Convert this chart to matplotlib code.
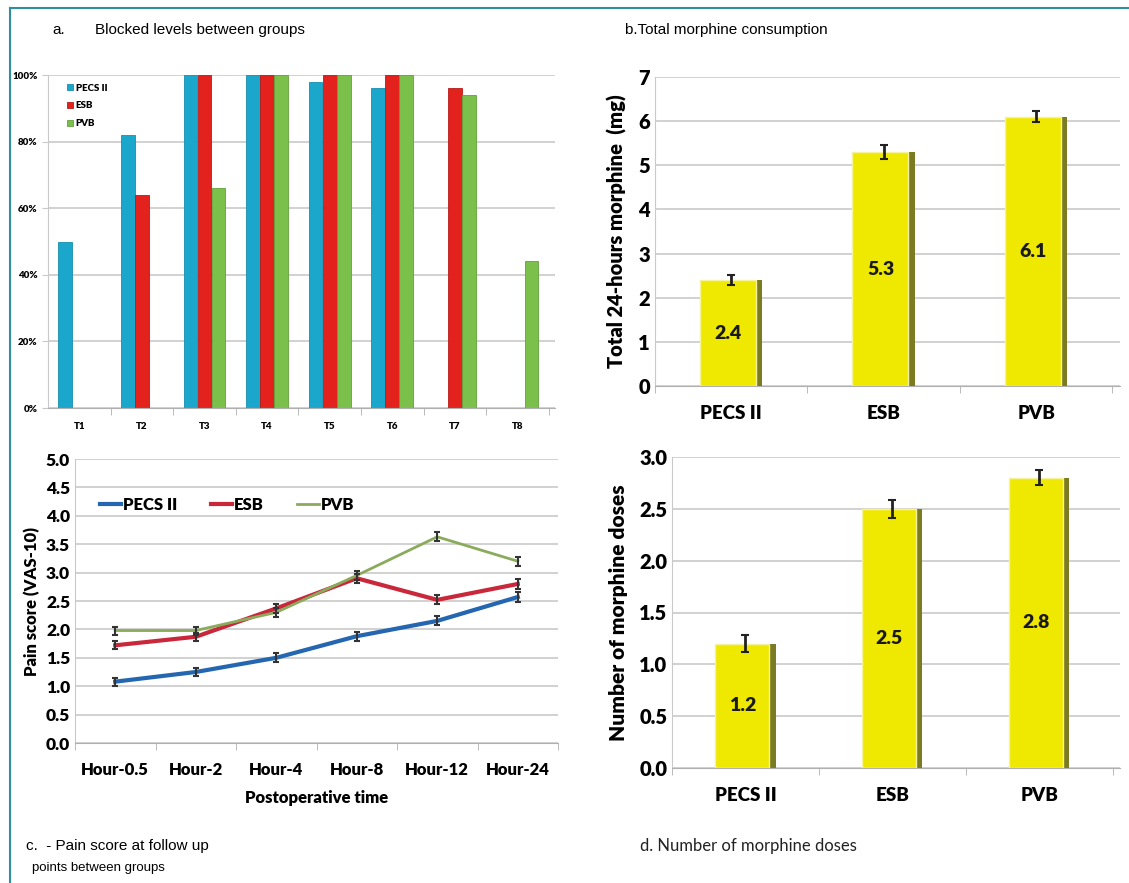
import numpy as np
import matplotlib
matplotlib.use('Agg')
import matplotlib.pyplot as plt
from matplotlib.lines import Line2D

# a. niveis bloqueados (%)
tempos = ['T1', 'T2', 'T3', 'T4', 'T5', 'T6', 'T7', 'T8']
bloq_pecs = [50, 82, 100, 100, 98, 96, 0, 0]
bloq_esb = [0, 64, 100, 100, 100, 100, 96, 0]
bloq_pvb = [0, 0, 66, 100, 100, 100, 94, 44]

# b. morfina total (mg)
grupos = ['PECS II', 'ESB', 'PVB']
morfina_total = [2.4, 5.3, 6.1]
morfina_total_err = [0.12, 0.15, 0.12]

# c. escore de dor
horas = ['Hour-0.5', 'Hour-2', 'Hour-4', 'Hour-8', 'Hour-12', 'Hour-24']
dor_pecs = [1.08, 1.25, 1.50, 1.88, 2.15, 2.57]
dor_esb = [1.72, 1.87, 2.37, 2.90, 2.52, 2.80]
dor_pvb = [1.98, 1.98, 2.30, 2.95, 3.63, 3.20]
dor_err = [0.07, 0.07, 0.08, 0.08, 0.08, 0.08]

# d. numero de doses
doses = [1.2, 2.5, 2.8]
doses_err = [0.08, 0.09, 0.07]

FONTE = 'Lato'
PESO = 'heavy'
GRID = '#c9c9c9'
AMARELO = '#efe800'
OLIVA = '#7b7b22'

fig = plt.figure(figsize=(11.29, 8.83), dpi=100)
fig.patch.set_facecolor('white')

# moldura (linha teal no topo e na esquerda)
fig.add_artist(Line2D([10 / 1129, 10 / 1129], [0, 1 - 8 / 883], color='#2f8f9d', lw=1.5))
fig.add_artist(Line2D([10 / 1129, 1], [1 - 8 / 883, 1 - 8 / 883], color='#2f8f9d', lw=1.5))


def estilo_eixo(ax):
    for s in ['top', 'right']:
        ax.spines[s].set_visible(False)
    ax.spines['left'].set_color(GRID)
    ax.spines['bottom'].set_color('#b0b0b0')
    ax.yaxis.grid(True, color=GRID, lw=1.2)
    ax.set_axisbelow(True)
    ax.tick_params(axis='y', length=0)
    ax.tick_params(axis='x', which='major', length=0)
    ax.tick_params(axis='x', which='minor', length=5, color='#b0b0b0')


# ---- a ----
ax = fig.add_axes([48 / 1129, 1 - 408 / 883, 507 / 1129, 333 / 883])
x = np.arange(len(tempos))
w = 0.22
ax.bar(x - 0.225, bloq_pecs, w, color='#1ba6cc', edgecolor='#178fb0', lw=0.6, label='PECS II')
ax.bar(x, bloq_esb, w, color='#e3221e', edgecolor='#b81a18', lw=0.6, label='ESB')
ax.bar(x + 0.225, bloq_pvb, w, color='#7cc04c', edgecolor='#62a23a', lw=0.6, label='PVB')
ax.set_xlim(-0.5, len(tempos) - 0.4)
ax.set_ylim(0, 100)
ax.set_yticks(np.arange(0, 101, 20))
ax.set_yticklabels([f'{v}%' for v in range(0, 101, 20)], fontsize=7, fontweight=PESO, family=FONTE)
ax.set_xticks(x)
ax.set_xticklabels(tempos, fontsize=7, fontweight=PESO, family=FONTE)
ax.set_xticks(np.arange(len(tempos)) + 0.5, minor=True)
estilo_eixo(ax)
ax.tick_params(axis='y', length=4, color=GRID)
ax.tick_params(axis='x', which='major', pad=10)
ax.legend(loc='upper left', frameon=False, prop={'family': FONTE, 'weight': PESO, 'size': 7},
          handlelength=0.6, handleheight=0.6, handletextpad=0.3, labelspacing=0.9,
          bbox_to_anchor=(0.02, 1.0))
fig.text(52 / 1129, 1 - 30 / 883, 'a.', fontsize=11, family='Liberation Sans', va='center')
fig.text(95 / 1129, 1 - 30 / 883, 'Blocked levels between groups', fontsize=11,
         family='Liberation Sans', va='center')


def barras_3d(ax, vals, errs):
    xb = np.arange(len(vals))
    ax.bar(xb, vals, 0.41, color=OLIVA, zorder=2)
    ax.bar(xb - 0.205, vals, 0.365, align='edge', color=AMARELO, edgecolor='#f6f3a0', lw=1.0, zorder=3)
    ax.errorbar(xb, vals, yerr=errs, fmt='none', ecolor='#222222', elinewidth=2, capsize=3,
                capthick=1.5, zorder=4)
    for xi, v in zip(xb, vals):
        ax.text(xi - 0.02, v / 2, f'{v:.1f}', ha='center', va='center', fontsize=14,
                fontweight=PESO, family=FONTE, color='#1a1a1a', zorder=5)
    ax.set_xticks(xb)
    ax.set_xticklabels(grupos, fontsize=13.5, fontweight=PESO, family=FONTE)
    ax.set_xticks(np.arange(len(vals) + 1) - 0.5, minor=True)
    ax.set_xlim(-0.5, len(vals) - 0.45)
    estilo_eixo(ax)
    ax.tick_params(axis='x', which='major', pad=14)


# ---- b ----
ax = fig.add_axes([655 / 1129, 1 - 386 / 883, 465 / 1129, 309 / 883])
barras_3d(ax, morfina_total, morfina_total_err)
ax.set_ylim(0, 7)
ax.set_yticks(range(0, 8))
ax.set_yticklabels([str(v) for v in range(0, 8)], fontsize=14.5, fontweight=PESO, family=FONTE)
ax.set_ylabel('Total 24-hours morphine  (mg)', fontsize=14.5, fontweight=PESO, family=FONTE, labelpad=8)
fig.text(625 / 1129, 1 - 30 / 883, 'b.Total morphine consumption', fontsize=11,
         family='Liberation Sans', va='center')

# ---- d ----
ax = fig.add_axes([672 / 1129, 1 - 768 / 883, 448 / 1129, 311 / 883])
barras_3d(ax, doses, doses_err)
ax.set_ylim(0, 3)
ax.set_yticks(np.arange(0, 3.01, 0.5))
ax.set_yticklabels([f'{v:.1f}' for v in np.arange(0, 3.01, 0.5)], fontsize=14.5, fontweight=PESO, family=FONTE)
ax.set_ylabel('Number of morphine doses', fontsize=15, fontweight=PESO, family=FONTE, labelpad=8)
fig.text(640 / 1129, 1 - 846 / 883, 'd. Number of morphine doses', fontsize=12,
         family=FONTE, va='center', color='#222222')

# ---- c ----
ax = fig.add_axes([75 / 1129, 1 - 743 / 883, 483 / 1129, 284 / 883])
xh = np.arange(len(horas))
ax.plot(xh, dor_pecs, color='#2467b0', lw=3, label='PECS II', zorder=3)
ax.plot(xh, dor_esb, color='#c9283b', lw=3, label='ESB', zorder=3)
ax.plot(xh, dor_pvb, color='#8aab5c', lw=2, label='PVB', zorder=4)
for serie in [dor_pecs, dor_esb, dor_pvb]:
    ax.errorbar(xh, serie, yerr=dor_err, fmt='none', ecolor='#333333', elinewidth=1.5,
                capsize=2, capthick=1.5, zorder=5)
ax.set_ylim(0, 5)
ax.set_yticks(np.arange(0, 5.01, 0.5))
ax.set_yticklabels([f'{v:.1f}' for v in np.arange(0, 5.01, 0.5)], fontsize=12.5, fontweight=PESO, family=FONTE)
ax.set_xlim(-0.5, len(horas) - 0.5)
ax.set_xticks(xh)
ax.set_xticklabels(horas, fontsize=12, fontweight=PESO, family=FONTE)
ax.set_xticks(np.arange(len(horas) + 1) - 0.5, minor=True)
estilo_eixo(ax)
ax.tick_params(axis='x', which='major', pad=14)
ax.set_ylabel('Pain score (VAS-10)', fontsize=12, fontweight=PESO, family=FONTE, labelpad=4)
ax.set_xlabel('Postoperative time', fontsize=12, fontweight=PESO, family=FONTE, labelpad=8)
ax.legend(loc='upper left', ncol=3, frameon=False, bbox_to_anchor=(0.02, 0.92),
          prop={'family': FONTE, 'weight': PESO, 'size': 12},
          handlelength=1.3, handletextpad=0.1, columnspacing=2.0)
fig.text(26 / 1129, 1 - 846 / 883, 'c.  - Pain score at follow up', fontsize=11,
         family='Liberation Sans', va='center')
fig.text(32 / 1129, 1 - 868 / 883, 'points between groups', fontsize=9.5,
         family='Liberation Sans', va='center')

fig.savefig('out.png', dpi=100)
